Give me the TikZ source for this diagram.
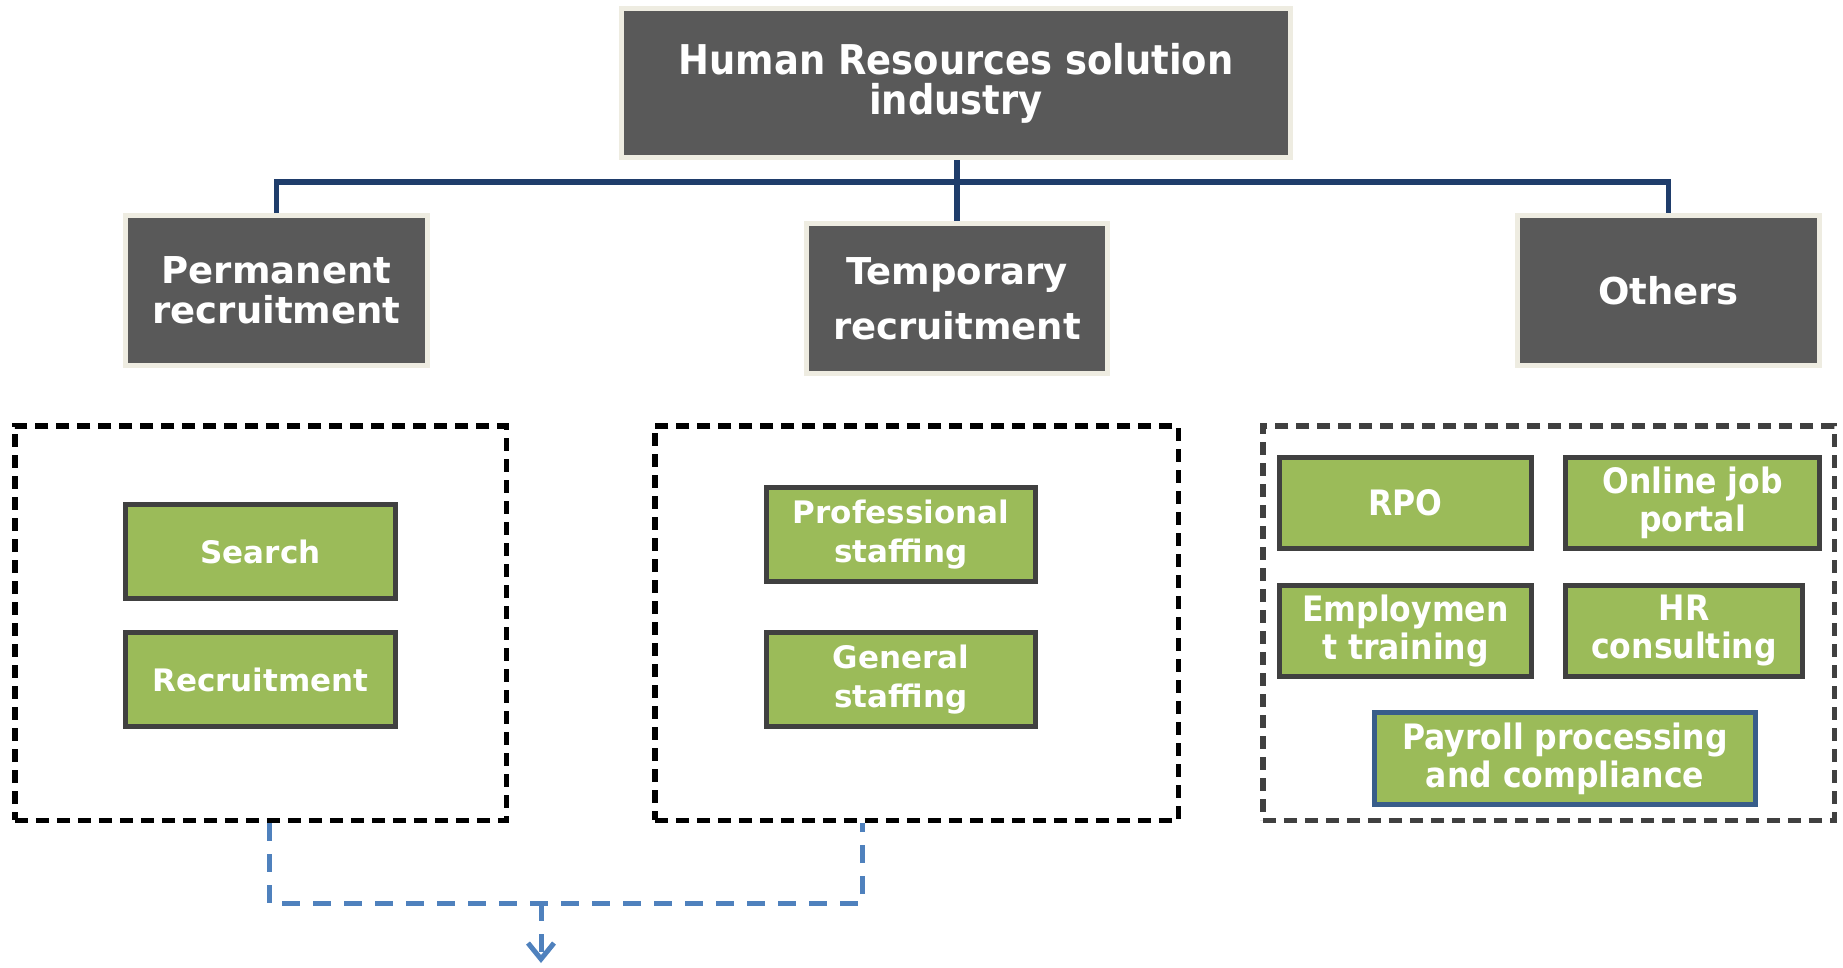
\documentclass[tikz,border=0pt]{standalone}
\usepackage{fontspec}
\setmainfont{DejaVu Sans}
\newfontfamily\condfont{DejaVu Sans Condensed}
\usetikzlibrary{arrows.meta}
\definecolor{boxgray}{HTML}{595959}
\definecolor{rimbeige}{HTML}{EEECE1}
\definecolor{leafgreen}{HTML}{9BBB59}
\definecolor{edgegray}{HTML}{404040}
\definecolor{busnavy}{HTML}{1F3D6B}
\definecolor{flowblue}{HTML}{4F81BD}
\definecolor{payblue}{HTML}{385D8A}

\begin{document}
\begin{tikzpicture}[x=1pt,y=-1pt,
  headbox/.style={draw=rimbeige, line width=5pt, fill=boxgray, text=white,
    align=center, inner sep=0pt, font=\bfseries\fontsize{37pt}{40pt}\selectfont},
  leafbox/.style={draw=edgegray, line width=5pt, fill=leafgreen, text=white,
    align=center, inner sep=0pt, minimum height=91pt,
    font=\bfseries\fontsize{31pt}{39pt}\selectfont},
  leafcond/.style={leafbox, font=\condfont\bfseries\fontsize{35pt}{38pt}\selectfont},
  groupbox/.style={draw=black, line width=5.5pt, dash pattern=on 13pt off 8pt,
    inner sep=0pt, minimum height=394.5pt},
  busline/.style={draw=busnavy, line width=5.5pt},
  flowline/.style={draw=flowblue, line width=5pt, dash pattern=on 18pt off 13pt}]

\useasboundingbox (0,0) rectangle (1843,967);

% top level
\node[headbox, minimum width=669pt, minimum height=149pt,
  font=\condfont\bfseries\fontsize{41pt}{40pt}\selectfont]
  (top) at (956,83) {Human Resources solution\\industry};

% second level
\node[headbox, minimum width=302pt, minimum height=150pt]
  (perm) at (276.5,290.5) {Permanent\\recruitment};
\node[headbox, minimum width=301pt, minimum height=150pt]
  (temp) at (957,298.5) {Temporary\\[15pt]recruitment};
\node[headbox, minimum width=302pt, minimum height=150pt]
  (others) at (1668.5,290.5) {Others};

% tree connectors
\coordinate (bus) at (0,182);
\draw[busline] (temp.north |- top.south) -- (temp.north);
\draw[busline] (perm.north) -- (perm.north |- bus) -- (others.north |- bus) -- (others.north);

% group frames
\node[groupbox, minimum width=491.5pt] (g1) at (260.5,623) {};
\node[groupbox, minimum width=523.5pt] (g2) at (916.5,623) {};
\node[groupbox, draw=edgegray, minimum width=571.5pt] (g3) at (1548.5,623) {};

% permanent recruitment items
\node[leafbox, minimum width=270pt, minimum height=94pt] (search) at (260.5,551.5) {Search};
\node[leafbox, minimum width=270pt, minimum height=94pt] (recr) at (260.5,679.5) {Recruitment};

% temporary recruitment items
\node[leafbox, minimum width=269pt, minimum height=94pt] (prof) at (901,534.5) {Professional\\staffing};
\node[leafbox, minimum width=269pt, minimum height=94pt] (gen) at (901,679.5) {General\\staffing};

% other services
\node[leafcond, minimum width=252pt] (rpo) at (1405.5,503) {RPO};
\node[leafcond, minimum width=254pt] (portal) at (1692.5,503) {Online job\\portal};
\node[leafcond, minimum width=252pt] (train) at (1405.5,631) {Employmen\\t training};
\node[leafcond, minimum width=237pt] (hrc) at (1684,631) {HR\\consulting};
\node[leafcond, draw=payblue, minimum width=381pt, minimum height=92pt] (pay) at (1565,758.5) {Payroll processing\\and compliance};

% merge of the two recruitment groups
\coordinate (j1) at (269,903);
\coordinate (j2) at (862,903);
\coordinate (jm) at (541,903);
\coordinate (tip) at (541,963);
\draw[flowline] (j1 |- g1.south) -- (j1) -- (j2) -- (j2 |- g2.south);
\draw[flowline, -{Straight Barb[length=16pt,width=26pt,line width=5pt]}] (jm) -- (tip);

\end{tikzpicture}
\end{document}
